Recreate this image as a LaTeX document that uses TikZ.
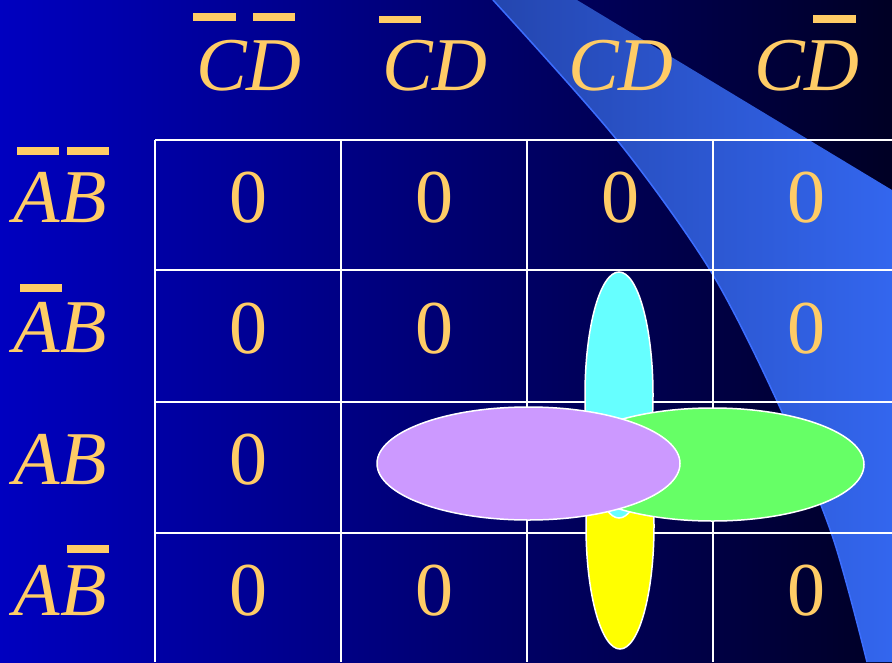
\documentclass[tikz,border=0pt]{standalone}
\usepackage{fontspec}
\setmainfont{Liberation Serif}
\usetikzlibrary{shapes.geometric}
\definecolor{txt}{RGB}{255,204,102}
\definecolor{bgL}{RGB}{0,0,192}
\definecolor{bgR}{RGB}{0,0,36}
\definecolor{bandL}{RGB}{36,70,175}
\definecolor{bandR}{RGB}{51,102,238}
\definecolor{bandEdge}{RGB}{60,110,255}
\definecolor{cyanf}{RGB}{102,255,255}
\definecolor{yellowf}{RGB}{255,255,0}
\definecolor{greenf}{RGB}{102,255,102}
\definecolor{purplef}{RGB}{204,153,255}
\begin{document}
\begin{tikzpicture}[x=1pt,y=-1pt,
  lbl/.style={text=txt, font=\fontsize{76}{76}\selectfont\itshape, inner sep=0pt, anchor=base},
  val/.style={text=txt, font=\fontsize{76}{76}\selectfont, inner sep=0pt, anchor=base},
  overbar/.style={fill=txt, draw=none},
  gridline/.style={draw=white, line width=2pt},
  loop/.style={draw=white, line width=1.5pt, ellipse, inner sep=0pt}]
\useasboundingbox (0,0) rectangle (892,662);
% background
\shade[left color=bgL, right color=bgR] (0,0) rectangle (892,662);
% light band
\shade[left color=bandL, right color=bandR]
  (493,0) -- (577,0) -- (892,190) -- (892,662) -- (867,662)
  -- plot[smooth] coordinates {(867,662) (832,535) (777,401) (710,270) (617,140) (493,0)} -- cycle;
\draw[bandEdge, line width=1.5pt]
  plot[smooth] coordinates {(867,662) (832,535) (777,401) (710,270) (617,140) (493,0)};
% grid
\foreach \yy in {140,270,402,533} \draw[gridline] (155,\yy) -- (892,\yy);
\foreach \xx in {155,341,527,713} \draw[gridline] (\xx,140) -- (\xx,662);
% column headers
\node[lbl] (c1) at (249,90) {CD};
\node[lbl] (c2) at (435,90) {CD};
\node[lbl] (c3) at (621,90) {CD};
\node[lbl] (c4) at (807,90) {CD};
\fill[overbar] (193,13) rectangle (236,21);
\fill[overbar] (253,13) rectangle (295,21);
\fill[overbar] (379,16) rectangle (421,23);
\fill[overbar] (813,15) rectangle (856,23);
% row headers
\node[lbl] (r1) at (60,222) {AB};
\node[lbl] (r2) at (60,352) {AB};
\node[lbl] (r3) at (60,484) {AB};
\node[lbl] (r4) at (60,615) {AB};
\fill[overbar] (17,147) rectangle (59,155);
\fill[overbar] (67,147) rectangle (109,155);
\fill[overbar] (20,284) rectangle (62,292);
\fill[overbar] (67,545) rectangle (109,553);
% cell values
\node[val] (v11) at (248,222) {0};
\node[val] (v12) at (434,222) {0};
\node[val] (v13) at (620,222) {0};
\node[val] (v14) at (806,222) {0};
\node[val] (v21) at (248,353) {0};
\node[val] (v22) at (434,353) {0};
\node[val] (v24) at (806,353) {0};
\node[val] (v31) at (248,484) {0};
\node[val] (v41) at (248,615) {0};
\node[val] (v42) at (434,615) {0};
\node[val] (v44) at (806,615) {0};
% groupings
\node[loop, fill=yellowf, minimum width=68pt, minimum height=246pt] (gy) at (620,526) {};
\node[loop, fill=cyanf, minimum width=68pt, minimum height=246pt] (gc) at (619,395) {};
\node[loop, fill=greenf, minimum width=303pt, minimum height=113pt] (gg) at (712.5,464.5) {};
\node[loop, fill=purplef, minimum width=303pt, minimum height=113pt] (gp) at (528.5,463.5) {};
\end{tikzpicture}
\end{document}
